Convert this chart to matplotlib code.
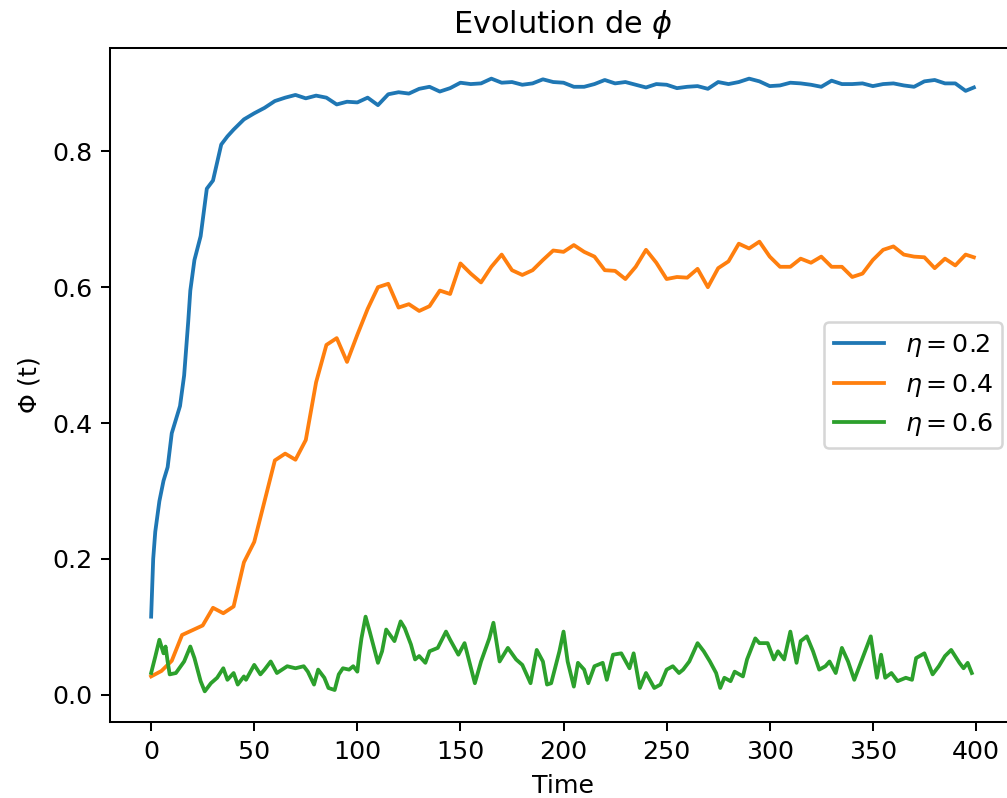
import numpy as np
import matplotlib
matplotlib.use('Agg')
import matplotlib.pyplot as plt

# eta = 0.2
t_blue = [0, 1, 2, 4, 6, 8, 10, 12, 14, 16, 18, 19, 21, 24, 27, 30, 34, 37, 40, 45,
          50, 55, 60, 65, 70, 75, 80, 85, 90, 95, 100, 105, 110, 115, 120, 125, 130, 135, 140, 145,
          150, 155, 160, 165, 170, 175, 180, 185, 190, 195, 200, 205, 210, 215, 220, 225, 230, 235, 240, 245,
          250, 255, 260, 265, 270, 275, 280, 285, 290, 295, 300, 305, 310, 315, 320, 325, 330, 335, 340, 345,
          350, 355, 360, 365, 370, 375, 380, 385, 390, 395, 399]
phi_blue = [0.115, 0.200, 0.240, 0.285, 0.315, 0.335, 0.385, 0.405, 0.425, 0.470, 0.550, 0.595, 0.640, 0.675, 0.745, 0.757, 0.810, 0.822, 0.832, 0.847,
            0.856, 0.864, 0.874, 0.879, 0.883, 0.878, 0.882, 0.879, 0.869, 0.873, 0.872, 0.879, 0.868, 0.884, 0.887, 0.885, 0.892, 0.895, 0.888, 0.893,
            0.901, 0.899, 0.900, 0.907, 0.901, 0.902, 0.898, 0.900, 0.906, 0.902, 0.901, 0.895, 0.895, 0.899, 0.905, 0.900, 0.902, 0.898, 0.894, 0.899,
            0.898, 0.893, 0.895, 0.896, 0.892, 0.902, 0.899, 0.902, 0.907, 0.903, 0.896, 0.897, 0.901, 0.900, 0.898, 0.895, 0.904, 0.899, 0.899, 0.900,
            0.896, 0.899, 0.900, 0.897, 0.895, 0.903, 0.905, 0.900, 0.900, 0.889, 0.894]

# eta = 0.4
t_orange = list(range(0, 400, 5)) + [399]
phi_orange = [0.027, 0.035, 0.050, 0.088, 0.095, 0.102, 0.128, 0.120, 0.130, 0.195,
              0.225, 0.285, 0.345, 0.355, 0.346, 0.375, 0.460, 0.515, 0.525, 0.490,
              0.530, 0.568, 0.600, 0.605, 0.570, 0.575, 0.565, 0.572, 0.595, 0.590,
              0.635, 0.620, 0.607, 0.630, 0.648, 0.625, 0.618, 0.625, 0.640, 0.654,
              0.652, 0.662, 0.652, 0.645, 0.625, 0.624, 0.612, 0.630, 0.655, 0.636,
              0.612, 0.615, 0.614, 0.627, 0.600, 0.628, 0.638, 0.664, 0.657, 0.667,
              0.645, 0.630, 0.630, 0.642, 0.636, 0.645, 0.630, 0.630, 0.615, 0.620,
              0.640, 0.655, 0.660, 0.648, 0.645, 0.644, 0.628, 0.642, 0.632, 0.648,
              0.644]

# eta = 0.6
t_green = [0, 2, 4, 6, 7, 8, 9, 12, 16, 19,
           21, 24, 26, 29, 32, 35, 37, 40, 42, 45,
           46, 50, 53, 55, 58, 61, 66, 70, 74, 76,
           79, 81, 84, 86, 89, 91, 93, 96, 98, 100,
           101, 102, 104, 106, 110, 112, 114, 118, 121, 123,
           126, 128, 130, 133, 135, 139, 143, 145, 149, 152,
           157, 160, 164, 166, 169, 173, 177, 180, 184, 187,
           190, 192, 194, 198, 200, 202, 205, 207, 210, 212,
           215, 219, 221, 224, 228, 232, 234, 237, 240, 244,
           247, 250, 253, 256, 258, 261, 265, 268, 271, 274,
           276, 278, 281, 283, 287, 289, 293, 295, 299, 302,
           304, 307, 310, 313, 315, 318, 321, 324, 327, 329,
           332, 335, 338, 341, 345, 349, 352, 354, 356, 359,
           362, 366, 369, 371, 375, 379, 382, 385, 388, 392,
           394, 396, 398]
phi_green = [0.032, 0.056, 0.081, 0.061, 0.071, 0.049, 0.030, 0.032, 0.049, 0.071,
             0.054, 0.020, 0.005, 0.017, 0.025, 0.039, 0.022, 0.032, 0.015, 0.027,
             0.022, 0.044, 0.030, 0.037, 0.049, 0.032, 0.042, 0.039, 0.042, 0.034,
             0.015, 0.037, 0.025, 0.010, 0.007, 0.030, 0.039, 0.037, 0.042, 0.034,
             0.061, 0.083, 0.115, 0.093, 0.047, 0.064, 0.096, 0.079, 0.108, 0.098,
             0.074, 0.052, 0.057, 0.047, 0.064, 0.069, 0.093, 0.081, 0.059, 0.076,
             0.017, 0.049, 0.083, 0.106, 0.049, 0.069, 0.052, 0.044, 0.017, 0.066,
             0.049, 0.015, 0.017, 0.064, 0.093, 0.049, 0.012, 0.047, 0.037, 0.017,
             0.042, 0.047, 0.022, 0.059, 0.061, 0.039, 0.061, 0.010, 0.032, 0.010,
             0.015, 0.037, 0.042, 0.032, 0.037, 0.049, 0.076, 0.064, 0.049, 0.032,
             0.010, 0.025, 0.020, 0.034, 0.027, 0.052, 0.083, 0.076, 0.076, 0.052,
             0.064, 0.052, 0.093, 0.047, 0.079, 0.086, 0.064, 0.037, 0.042, 0.049,
             0.032, 0.069, 0.049, 0.022, 0.054, 0.086, 0.025, 0.059, 0.025, 0.032,
             0.020, 0.025, 0.022, 0.054, 0.061, 0.030, 0.042, 0.057, 0.066, 0.047,
             0.039, 0.047, 0.032]

labels = [r'$\eta=0.2$', r'$\eta=0.4$', r'$\eta=0.6$']

# the reference is a cropped screenshot of a ~182 dpi figure
dpi = 182
fig = plt.figure(figsize=(1007 / dpi, 798 / dpi), dpi=dpi)
ax = fig.add_axes([110 / 1007, 76 / 798, 905 / 1007, 674 / 798])

ax.plot(t_blue, phi_blue, label=labels[0])
ax.plot(t_orange, phi_orange, label=labels[1])
ax.plot(t_green, phi_green, label=labels[2])

ax.set_title(r'Evolution de $\phi$')
ax.set_xlabel('Time')
ax.set_ylabel(r'$\Phi$ (t)')
ax.legend(loc='center right')

fig.savefig('out.png', dpi=dpi)
